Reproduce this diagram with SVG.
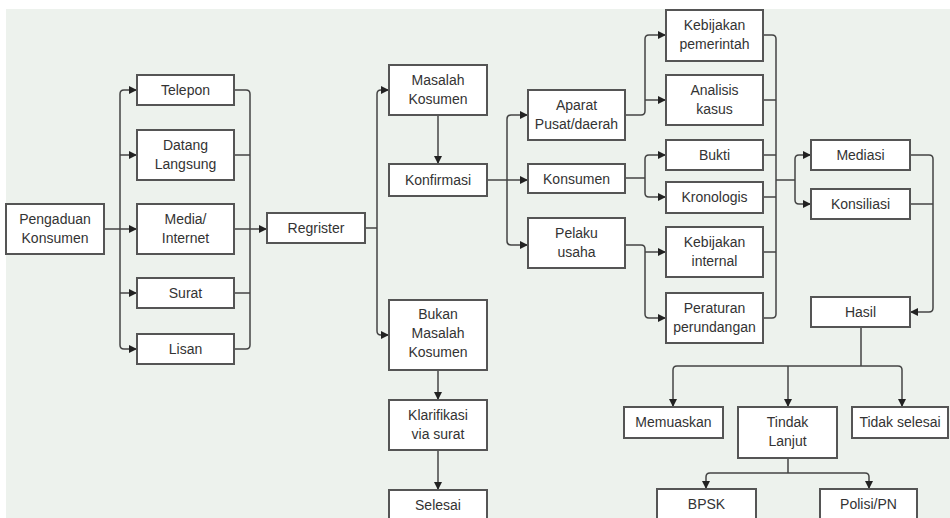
<svg xmlns="http://www.w3.org/2000/svg" width="950" height="518" viewBox="0 0 950 518">
<defs>
<marker id="ah" viewBox="0 0 8 8" refX="8" refY="4" markerWidth="8" markerHeight="8" markerUnits="userSpaceOnUse" orient="auto">
<path d="M0,0 L8,4 L0,8 z" fill="#222"/>
</marker>
<style>
.b{fill:#fff;stroke:#555;stroke-width:2}
.t{font-family:"Liberation Sans",Arial,sans-serif;font-size:14px;fill:#333;text-anchor:middle}
.c{fill:none;stroke:#444;stroke-width:1.5}
.a{fill:none;stroke:#444;stroke-width:1.5;marker-end:url(#ah)}
</style>
</defs>
<rect x="0" y="0" width="950" height="518" fill="#fff"/>
<rect x="6" y="9" width="944" height="509" fill="#edf2ed"/>
<g id="connectors">
<path class="c" d="M104,229 H120 M124,90 Q120,90 120,94 V345 Q120,349 124,349"/>
<path class="a" d="M120,229 H137"/>
<path class="a" d="M124,90 H137"/>
<path class="a" d="M120,155 H137"/>
<path class="a" d="M120,293 H137"/>
<path class="a" d="M124,349 H137"/>
<path class="c" d="M234,90 H246 Q250,90 250,94 V345 Q250,349 246,349 H234 M234,155 H250 M234,229 H250 M234,293 H250"/>
<path class="a" d="M250,229 H267"/>
<path class="c" d="M365,228 H377 M381,90 Q377,90 377,94 V331 Q377,335 381,335"/>
<path class="a" d="M381,90 H389"/>
<path class="a" d="M381,335 H389"/>
<path class="a" d="M438,115 V164"/>
<path class="a" d="M438,370 V400"/>
<path class="a" d="M438,450 V490"/>
<path class="c" d="M487,180 H507 M511,115 Q507,115 507,119 V241 Q507,245 511,245"/>
<path class="a" d="M511,115 H528"/>
<path class="a" d="M507,180 H528"/>
<path class="a" d="M511,245 H528"/>
<path class="c" d="M625,115 H641 Q645,115 645,111 V39 Q645,35 649,35"/>
<path class="a" d="M649,35 H666"/>
<path class="a" d="M645,100 H666"/>
<path class="c" d="M625,178 H645 M649,155 Q645,155 645,159 V193 Q645,197 649,197"/>
<path class="a" d="M649,155 H666"/>
<path class="a" d="M649,197 H666"/>
<path class="c" d="M625,245 H641 Q645,245 645,249 V314 Q645,318 649,318"/>
<path class="a" d="M645,252 H666"/>
<path class="a" d="M649,318 H666"/>
<path class="c" d="M763,35 H772 Q776,35 776,39 V314 Q776,318 772,318 H763 M763,100 H776 M763,155 H776 M763,197 H776 M763,252 H776 M776,180 H795 M799,155 Q795,155 795,159 V200 Q795,204 799,204"/>
<path class="a" d="M799,155 H811"/>
<path class="a" d="M799,204 H811"/>
<path class="c" d="M910,155 H929 Q933,155 933,159 V308 Q933,312 929,312 M910,204 H933"/>
<path class="a" d="M929,312 H910"/>
<path class="c" d="M861,327 V366 M673,370 Q673,366 677,366 H898 Q902,366 902,370"/>
<path class="a" d="M673,370 V407"/>
<path class="a" d="M788,366 V407"/>
<path class="a" d="M902,370 V407"/>
<path class="c" d="M788,458 V473 M706,477 Q706,473 710,473 H865 Q869,473 869,477"/>
<path class="a" d="M706,477 V489"/>
<path class="a" d="M869,477 V489"/>
</g>
<g id="pengaduan"><rect class="b" x="6" y="204" width="98" height="50"/><text class="t" x="55" y="224">Pengaduan</text><text class="t" x="55" y="243">Konsumen</text></g>
<g id="telepon"><rect class="b" x="137" y="75" width="97" height="30"/><text class="t" x="185.5" y="95">Telepon</text></g>
<g id="datang"><rect class="b" x="137" y="130" width="97" height="50"/><text class="t" x="185.5" y="150">Datang</text><text class="t" x="185.5" y="169">Langsung</text></g>
<g id="media"><rect class="b" x="137" y="204" width="97" height="50"/><text class="t" x="185.5" y="224">Media/</text><text class="t" x="185.5" y="243">Internet</text></g>
<g id="surat"><rect class="b" x="137" y="278" width="97" height="30"/><text class="t" x="185.5" y="298">Surat</text></g>
<g id="lisan"><rect class="b" x="137" y="334" width="97" height="30"/><text class="t" x="185.5" y="354">Lisan</text></g>
<g id="regrister"><rect class="b" x="267" y="213" width="98" height="30"/><text class="t" x="316" y="233">Regrister</text></g>
<g id="masalah"><rect class="b" x="389" y="65" width="98" height="50"/><text class="t" x="438" y="85">Masalah</text><text class="t" x="438" y="104">Kosumen</text></g>
<g id="konfirmasi"><rect class="b" x="389" y="164" width="98" height="32"/><text class="t" x="438" y="185">Konfirmasi</text></g>
<g id="bukan"><rect class="b" x="389" y="300" width="98" height="70"/><text class="t" x="438" y="319">Bukan</text><text class="t" x="438" y="338">Masalah</text><text class="t" x="438" y="357">Kosumen</text></g>
<g id="klarifikasi"><rect class="b" x="389" y="400" width="98" height="50"/><text class="t" x="438" y="420">Klarifikasi</text><text class="t" x="438" y="439">via surat</text></g>
<g id="selesai"><rect class="b" x="389" y="490" width="98" height="40"/><text class="t" x="438" y="510">Selesai</text></g>
<g id="aparat"><rect class="b" x="528" y="90" width="97" height="50"/><text class="t" x="576.5" y="110">Aparat</text><text class="t" x="576.5" y="129">Pusat/daerah</text></g>
<g id="konsumen"><rect class="b" x="528" y="164" width="97" height="29"/><text class="t" x="576.5" y="184">Konsumen</text></g>
<g id="pelaku"><rect class="b" x="528" y="218" width="97" height="50"/><text class="t" x="576.5" y="238">Pelaku</text><text class="t" x="576.5" y="257">usaha</text></g>
<g id="kebpem"><rect class="b" x="666" y="10" width="97" height="51"/><text class="t" x="714.5" y="30">Kebijakan</text><text class="t" x="714.5" y="49">pemerintah</text></g>
<g id="analisis"><rect class="b" x="666" y="75" width="97" height="50"/><text class="t" x="714.5" y="95">Analisis</text><text class="t" x="714.5" y="114">kasus</text></g>
<g id="bukti"><rect class="b" x="666" y="140" width="97" height="30"/><text class="t" x="714.5" y="160">Bukti</text></g>
<g id="kronologis"><rect class="b" x="666" y="182" width="97" height="31"/><text class="t" x="714.5" y="202">Kronologis</text></g>
<g id="kebint"><rect class="b" x="666" y="227" width="97" height="50"/><text class="t" x="714.5" y="247">Kebijakan</text><text class="t" x="714.5" y="266">internal</text></g>
<g id="peraturan"><rect class="b" x="666" y="293" width="97" height="50"/><text class="t" x="714.5" y="313">Peraturan</text><text class="t" x="714.5" y="332">perundangan</text></g>
<g id="mediasi"><rect class="b" x="811" y="140" width="99" height="30"/><text class="t" x="860.5" y="160">Mediasi</text></g>
<g id="konsiliasi"><rect class="b" x="811" y="189" width="99" height="30"/><text class="t" x="860.5" y="209">Konsiliasi</text></g>
<g id="hasil"><rect class="b" x="811" y="297" width="99" height="30"/><text class="t" x="860.5" y="317">Hasil</text></g>
<g id="memuaskan"><rect class="b" x="624" y="407" width="99" height="31"/><text class="t" x="673.5" y="427">Memuaskan</text></g>
<g id="tindak"><rect class="b" x="738" y="407" width="99" height="51"/><text class="t" x="787.5" y="427">Tindak</text><text class="t" x="787.5" y="446">Lanjut</text></g>
<g id="tidakselesai"><rect class="b" x="852" y="407" width="96" height="31"/><text class="t" x="900" y="427">Tidak selesai</text></g>
<g id="bpsk"><rect class="b" x="657" y="489" width="99" height="40"/><text class="t" x="706.5" y="509">BPSK</text></g>
<g id="polisi"><rect class="b" x="820" y="489" width="97" height="40"/><text class="t" x="868.5" y="509">Polisi/PN</text></g>
</svg>
